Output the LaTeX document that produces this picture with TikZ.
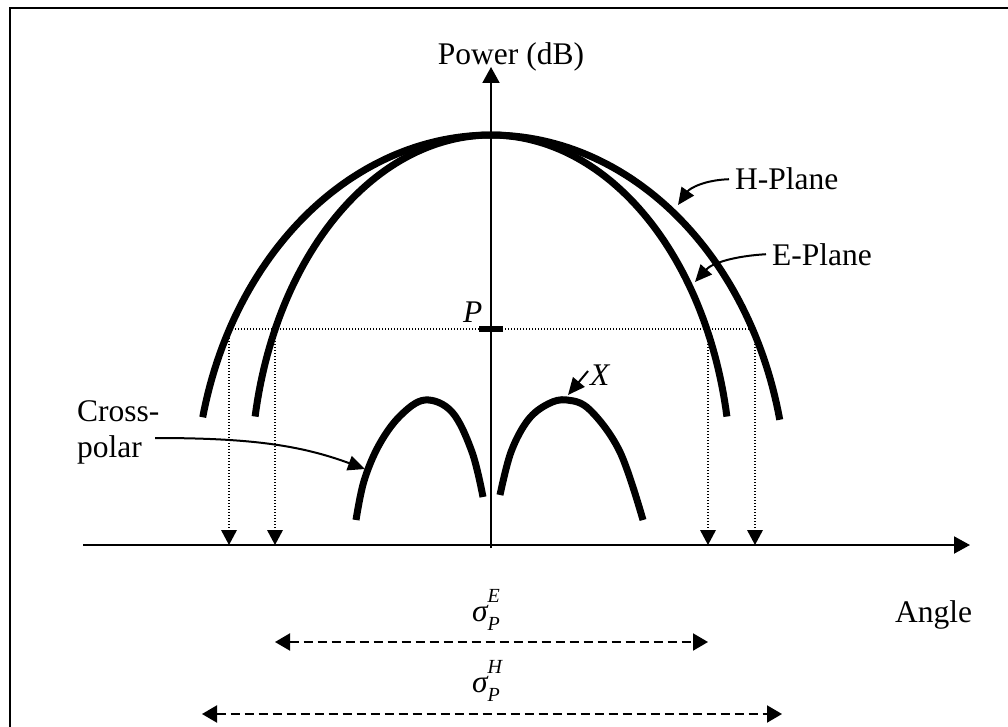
\documentclass[tikz,border=0pt]{standalone}
\usepackage{fontspec}
\setmainfont{Liberation Serif}
\usetikzlibrary{arrows.meta}
\begin{document}
\begin{tikzpicture}[x=1pt,y=-1pt,
  txt/.style={inner sep=0pt,font=\fontsize{31.5}{36}\selectfont},
  itxt/.style={txt,font=\fontsize{31.5}{36}\selectfont\itshape},
  axisline/.style={line width=2pt,-{Triangle[length=16pt,width=17pt]}},
  lobe/.style={line width=7pt,line cap=butt},
  guide/.style={line width=1.5pt,dash pattern=on 1.2pt off 1.8pt},
  droparrow/.style={guide,-{Triangle[length=15pt,width=16pt,line width=0pt]}},
  spanarrow/.style={line width=2pt,dash pattern=on 9pt off 5pt,{Triangle[length=15pt,width=17pt]}-{Triangle[length=15pt,width=17pt]}},
  pointer/.style={line width=2pt,-{Triangle[length=17pt,width=15pt]}}]
\useasboundingbox (0,0) rectangle (1008,727);
% frame
\draw[line width=2.2pt] (10,727) -- (10,8) -- (1008,8);
% axes
\coordinate (vbot) at (491,548);
\coordinate (vtop) at (491,67);
\coordinate (hl) at (83,545);
\coordinate (hr) at (970,545);
\draw[axisline] (vbot) -- (vtop);
\draw[axisline] (hl) -- (hr);
\node[txt,anchor=base] (power) at (511,65) {Power (dB)};
\node[txt,anchor=base west] (angle) at (895,622) {Angle};
% main lobes
\draw[lobe] plot[domain=12.7:166.9,samples=120] ({491+296*cos(\x)},{500-365*sin(\x)});
\draw[lobe] plot[domain=10.6:169.4,samples=120] ({491+240*cos(\x)},{480-345*sin(\x)});
% cross-polar lobes
\draw[lobe] plot[smooth,tension=0.6] coordinates {(356,520) (364,481) (379,445) (400,416) (425,400) (452,412) (472,452) (483,497)};
\draw[lobe] plot[smooth,tension=0.6] coordinates {(500,495) (511,452) (528,420) (548,404) (567,400) (590,410) (620,452) (643,520)};
% P level
\coordinate (pl) at (229,329);
\coordinate (pr) at (755,329);
\draw[guide] (pl) -- (pr);
\draw[line width=6pt] (479,329) -- (503,329);
\node[itxt,anchor=base west] (plab) at (463,322) {P};
% drop arrows
\coordinate (d1) at (229,329); \coordinate (t1) at (229,545);
\coordinate (d2) at (275,329); \coordinate (t2) at (275,545);
\coordinate (d3) at (708,329); \coordinate (t3) at (708,545);
\coordinate (d4) at (755,329); \coordinate (t4) at (755,545);
\draw[droparrow] (d1) -- (t1);
\draw[droparrow] (d2) -- (t2);
\draw[droparrow] (d3) -- (t3);
\draw[droparrow] (d4) -- (t4);
% labels with pointers
\node[txt,anchor=base west] (hlab) at (735,190) {H-Plane};
\node[txt,anchor=base west] (elab) at (772,265) {E-Plane};
\coordinate (hpt) at (678,205);
\coordinate (ept) at (695,282);
\draw[pointer] ([xshift=-6pt]hlab.west) .. controls (705,180) and (690,188) .. (hpt);
\draw[pointer] ([xshift=-6pt]elab.west) .. controls (735,256) and (712,263) .. (ept);
\node[txt,anchor=base west] (cross) at (77,421) {Cross-};
\node[txt,anchor=base west] (polar) at (77,457) {polar};
\coordinate (cstart) at (155,438);
\coordinate (cpt) at (365,469);
\draw[pointer] (cstart) .. controls (250,438) and (300,445) .. (cpt);
\node[itxt,anchor=base west] (xlab) at (590,385) {X};
\coordinate (xstart) at (588,371);
\coordinate (xpt) at (568,395);
\draw[pointer] (xstart) -- (xpt);
% beamwidth arrows
\coordinate (el) at (275,642); \coordinate (er) at (708,642);
\coordinate (hl2) at (202,714); \coordinate (hr2) at (782,714);
\draw[spanarrow] (el) -- (er);
\draw[spanarrow] (hl2) -- (hr2);
\node[itxt,anchor=base] (sige) at (486,621) {σ\rlap{\raisebox{0.6em}{\fontsize{20}{20}\selectfont E}}\raisebox{-0.3em}{\fontsize{20}{20}\selectfont P}};
\node[itxt,anchor=base] (sigh) at (486,692) {σ\rlap{\raisebox{0.6em}{\fontsize{20}{20}\selectfont H}}\raisebox{-0.3em}{\fontsize{20}{20}\selectfont P}};
\end{tikzpicture}
\end{document}
